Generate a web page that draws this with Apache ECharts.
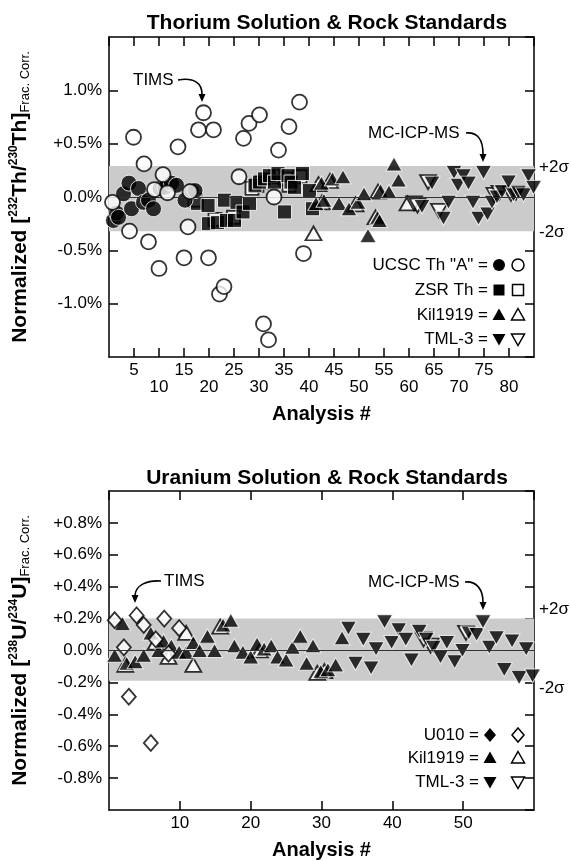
<!DOCTYPE html>
<html>
<head>
<meta charset="utf-8">
<script src="https://cdn.jsdelivr.net/npm/echarts@6/dist/echarts.min.js"></script>
<style>
  html, body { margin: 0; padding: 0; background: #fff; }
  #chart { width: 571px; height: 861px; }
</style>
</head>
<body>
<div id="chart"></div>
<script>
// ---------- Thorium panel: normalized 232Th/230Th (%), by analysis # ----------
const thXRow1 = [5, 15, 25, 35, 45, 55, 65, 75];
const thXRow2 = [10, 20, 30, 40, 50, 60, 70, 80];
const thYTicks = [-1.0, -0.5, 0.0, 0.5, 1.0];
const thYLabels = ['-1.0%', '-0.5%', '0.0%', '+0.5%', '1.0%'];
const thBand = [0.29, -0.32];

const thCircleFilled = [[0.9,-0.22],[1.5,-0.15],[1.9,-0.19],[2.9,0.03],[4.0,0.13],[4.5,-0.11],[5.9,0.08],[6.9,-0.05],[7.9,-0.03],[8.9,-0.11],[10.2,0.08],[11.2,0.09],[12.5,0.13],[13.5,0.11],[15.2,-0.03],[16.5,0.06],[17.2,0.06]];
const thCircleOpen = [[0.7,-0.05],[4.1,-0.32],[4.9,0.56],[7.0,0.31],[7.9,-0.42],[9.1,0.07],[10.0,-0.67],[10.8,0.21],[11.7,0.04],[13.8,0.47],[15.0,-0.57],[15.8,-0.28],[16.2,0.05],[17.9,0.63],[18.9,0.79],[19.9,-0.57],[20.9,0.63],[22.1,-0.91],[23.0,-0.84],[26.0,0.19],[26.9,0.55],[28.0,0.69],[30.1,0.77],[30.9,-1.19],[31.9,-1.34],[33.0,0.0],[33.9,0.44],[36.0,0.66],[38.1,0.89],[38.9,-0.53]];
const thSquareFilled = [[17.7,-0.06],[19.8,-0.08],[19.9,-0.25],[21.7,-0.24],[23.1,-0.03],[23.5,-0.22],[25.1,-0.22],[25.6,-0.05],[26.8,-0.14],[28.1,-0.06],[29.2,0.11],[30.1,0.14],[31.1,0.17],[32.1,0.20],[33.1,0.14],[33.8,0.22],[35.1,-0.14],[35.8,0.20],[36.4,0.14],[37.1,0.09],[38.7,0.22],[40.1,0.06],[40.7,-0.11]];
const thSquareOpen = [[17.2,-0.03],[21.2,-0.21],[24.9,-0.19],[28.6,0.08],[29.6,0.11],[30.6,0.14],[33.3,0.19],[35.3,0.17],[36.0,0.11],[38.2,0.19]];
const thKilFilled = [[41.4,-0.06],[42.5,0.13],[43.0,-0.03],[44.7,0.17],[46.0,-0.06],[46.8,0.19],[48.0,-0.11],[49.8,-0.05],[51.0,0.03],[51.8,-0.36],[53.7,-0.19],[54.1,-0.22],[54.3,0.06],[56.0,0.05],[57.0,0.31],[57.9,0.16]];
const thKilOpen = [[40.9,-0.34],[41.9,0.12],[42.6,-0.05],[44.2,0.15],[49.3,-0.07],[53.3,-0.19],[53.8,0.05],[59.7,-0.06]];
const thTmlFilled = [[62.6,-0.09],[64.6,0.13],[66.9,-0.2],[67.9,-0.05],[69.0,0.23],[69.8,0.11],[70.9,0.2],[71.9,0.13],[72.8,-0.05],[73.9,-0.2],[74.9,0.23],[75.7,-0.16],[76.6,-0.05],[77.6,0.0],[78.6,0.05],[79.9,0.14],[80.9,0.02],[81.9,0.04],[82.9,0.02],[83.9,0.2],[84.9,0.09]];
const thTmlOpen = [[61.0,-0.06],[61.7,-0.08],[63.8,0.14],[66.0,-0.13],[77.1,0.02],[78.1,0.04],[80.4,0.03],[81.4,0.04]];

// ---------- Uranium panel: normalized 238U/234U (%), by analysis # ----------
const uXLabels = [10, 20, 30, 40, 50];
const uYTicks = [-0.8, -0.6, -0.4, -0.2, 0.0, 0.2, 0.4, 0.6, 0.8];
const uYLabels = ['-0.8%', '-0.6%', '-0.4%', '-0.2%', '0.0%', '+0.2%', '+0.4%', '+0.6%', '+0.8%'];
const uBand = [0.2, -0.19];

const uU010Open = [[0.8,0.19],[2.1,0.02],[2.8,-0.29],[3.9,0.22],[4.9,0.16],[5.9,-0.58],[6.6,0.07],[7.8,0.2],[8.4,-0.02],[9.9,0.14]];
const uKilFilled = [[0.8,-0.03],[1.9,0.17],[2.5,-0.08],[3.7,-0.07],[4.9,-0.03],[5.9,0.11],[7.0,0.0],[7.7,0.06],[8.8,0.03],[9.9,-0.01],[10.9,-0.01],[11.9,0.05],[12.8,0.0],[13.9,0.09],[14.9,0.0],[16.1,0.16],[17.2,0.19],[17.7,0.03],[18.9,-0.01],[20.0,-0.04],[20.9,0.04],[21.9,0.01],[22.9,0.03],[23.8,-0.04],[25.0,-0.06],[25.9,0.02],[27.0,0.09],[27.9,-0.08],[28.8,0.03],[29.9,-0.13],[30.9,-0.12],[32.0,-0.09],[32.9,0.08]];
const uKilOpen = [[2.3,-0.09],[6.6,0.05],[8.4,-0.04],[10.9,0.11],[11.9,-0.09],[15.7,0.15],[21.3,0.0],[29.4,-0.14],[30.4,-0.13]];
const uTmlFilled = [[33.8,0.14],[34.8,-0.08],[35.9,0.07],[37.0,-0.11],[37.7,0.01],[38.9,0.18],[39.9,0.05],[40.9,0.13],[41.9,0.07],[42.7,-0.06],[43.8,0.12],[44.8,0.07],[45.8,0.02],[46.8,-0.04],[47.7,0.05],[48.8,-0.07],[49.9,0.0],[50.8,0.11],[51.9,0.10],[52.8,0.18],[53.7,0.02],[54.7,0.08],[55.8,-0.12],[56.9,0.06],[57.9,-0.17],[58.9,0.01],[59.8,-0.16]];
const uTmlOpen = [[44.4,0.07],[45.4,0.03],[50.4,0.11]];

const FONT = '"Liberation Sans", Arial, Helvetica, sans-serif';
const fmt1 = v => Number(v).toFixed(1);

function lookup(ticks, labels) {
  return v => {
    const i = ticks.findIndex(t => fmt1(t) === fmt1(v));
    return i >= 0 ? labels[i] : '';
  };
}

const axisLine = { show: true, onZero: false, lineStyle: { color: '#000', width: 1.5 } };
const tick = { show: true, inside: true, length: 9, lineStyle: { color: '#000', width: 1.5 } };
const labelStyle = { color: '#000', fontFamily: FONT, fontSize: 17 };
const nameStyle = { color: '#000', fontFamily: FONT, fontSize: 20, fontWeight: 'bold' };

function xAxes(grid, max, interval, formatter, nameGap) {
  return [
    { type: 'value', gridIndex: grid, position: 'bottom', min: 0, max, interval,
      axisLine, axisTick: tick, splitLine: { show: false },
      axisLabel: Object.assign({ formatter, margin: 5, lineHeight: 17,
        showMinLabel: false, showMaxLabel: false }, labelStyle),
      name: 'Analysis #', nameLocation: 'middle', nameGap, nameTextStyle: nameStyle },
    { type: 'value', gridIndex: grid, position: 'top', min: 0, max, interval,
      axisLine, axisTick: tick, splitLine: { show: false }, axisLabel: { show: false } }
  ];
}

function yAxes(grid, min, max, interval, formatter, nameRich) {
  return [
    { type: 'value', gridIndex: grid, position: 'left', min, max, interval,
      axisLine, axisTick: tick, splitLine: { show: false },
      axisLabel: Object.assign({ formatter, margin: 7,
        showMinLabel: false, showMaxLabel: false }, labelStyle),
      name: nameRich, nameLocation: 'middle', nameRotate: 90, nameGap: 77,
      nameTextStyle: Object.assign({
        lineHeight: 24,
        rich: {
          b: { fontFamily: FONT, fontSize: 21, fontWeight: 'bold', color: '#000', lineHeight: 24 },
          sup: { fontFamily: FONT, fontSize: 12, fontWeight: 'bold', color: '#000',
                 verticalAlign: 'top', lineHeight: 12, padding: [0, 0, 8, 0] },
          sub: { fontFamily: FONT, fontSize: 13, fontWeight: 'normal', color: '#000',
                 verticalAlign: 'bottom', lineHeight: 13, padding: [8, 0, 0, 0] }
        }
      }, nameStyle) },
    { type: 'value', gridIndex: grid, position: 'right', min, max, interval,
      axisLine, axisTick: tick, splitLine: { show: false }, axisLabel: { show: false } }
  ];
}

// grey ±2σ band, zero line and the band labels
function bandSeries(xi, yi, band, offTop, offBot) {
  const lbl = (text, off) => ({ show: true, position: 'end', formatter: text, distance: 5,
    offset: [0, off], color: '#000', fontFamily: FONT, fontSize: 17 });
  const hidden = { color: 'rgba(0,0,0,0)', width: 0.1, type: 'solid' };
  return {
    type: 'scatter', xAxisIndex: xi, yAxisIndex: yi, data: [], z: 1, silent: true,
    markArea: { silent: true, itemStyle: { color: '#cbcbcb' },
      data: [[{ yAxis: band[0] }, { yAxis: band[1] }]] },
    markLine: { silent: true, symbol: 'none', animation: false,
      data: [
        { yAxis: 0, lineStyle: { color: '#333', width: 1, type: 'solid' }, label: { show: false } },
        { yAxis: band[0], lineStyle: hidden, label: lbl('+2σ', offTop) },
        { yAxis: band[1], lineStyle: hidden, label: lbl('-2σ', offBot) }
      ] }
  };
}

const filled = { color: '#000', borderColor: '#fff', borderWidth: 1 };
const open = { color: '#fff', borderColor: '#000', borderWidth: 1.8 };

function pts(name, xi, yi, data, symbol, size, style, z, rotate) {
  return { name, type: 'scatter', xAxisIndex: xi, yAxisIndex: yi, data, symbol,
    symbolSize: size, symbolRotate: rotate || 0, itemStyle: style, z,
    emphasis: { disabled: true }, silent: true };
}

const thXFmt = v => thXRow1.includes(v) ? String(v) : (thXRow2.includes(v) ? '\n' + v : '');
const uXFmt = v => uXLabels.includes(v) ? String(v) : '';

const tri = [16, 14];

// ---------- in-plot keys and annotations ----------
function keyShape(kind, cx, cy, isOpen) {
  const style = isOpen ? { fill: '#fff', stroke: '#000', lineWidth: 1.5 } : { fill: '#000' };
  if (kind === 'circle') return { type: 'circle', shape: { cx, cy, r: 6 }, style };
  if (kind === 'square') return { type: 'rect', shape: { x: cx - 5.5, y: cy - 5.5, width: 11, height: 11 }, style };
  if (kind === 'up') return { type: 'polygon', shape: { points: [[cx, cy - 6.5], [cx + 6.5, cy + 5], [cx - 6.5, cy + 5]] }, style };
  if (kind === 'down') return { type: 'polygon', shape: { points: [[cx - 6.5, cy - 5], [cx + 6.5, cy - 5], [cx, cy + 6.5]] }, style };
  return { type: 'polygon', shape: { points: [[cx, cy - 7], [cx + 6, cy], [cx, cy + 7], [cx - 6, cy]] }, style };
}
function keyRow(text, rightX, cy, kind, x1, x2) {
  return [
    { type: 'text', style: { text, x: rightX, y: cy, align: 'right', verticalAlign: 'middle',
      font: '17px ' + FONT, fill: '#000' } },
    keyShape(kind, x1, cy, false),
    keyShape(kind, x2, cy, true)
  ];
}
function note(text, x, y) {
  return { type: 'text', style: { text, x, y, align: 'left', verticalAlign: 'middle',
    font: '17px ' + FONT, fill: '#000' } };
}
function arrow(x1, y1, c1x, c1y, c2x, c2y, x2, y2) {
  return [
    { type: 'bezierCurve', shape: { x1, y1, cpx1: c1x, cpy1: c1y, cpx2: c2x, cpy2: c2y, x2, y2 },
      style: { stroke: '#000', lineWidth: 1.6, fill: null } },
    { type: 'polygon', shape: { points: [[x2 - 3.5, y2], [x2 + 3.5, y2], [x2, y2 + 8]] },
      style: { fill: '#000' } }
  ];
}

const graphics = [].concat(
  keyRow('UCSC Th "A" =', 488, 265, 'circle', 499, 518),
  keyRow('ZSR Th =', 488, 290, 'square', 499, 518),
  keyRow('Kil1919 =', 488, 315, 'up', 499, 518),
  keyRow('TML-3 =', 488, 339, 'down', 499, 518),
  keyRow('U010 =', 479, 735, 'diamond', 490, 518),
  keyRow('Kil1919 =', 479, 758, 'up', 490, 518),
  keyRow('TML-3 =', 479, 782, 'down', 490, 518),
  [note('TIMS', 133, 80), note('MC-ICP-MS', 368, 133),
   note('TIMS', 164, 581), note('MC-ICP-MS', 368, 582)],
  arrow(178, 80, 195, 77, 202, 84, 202, 94),
  arrow(466, 133, 478, 132, 483, 140, 483, 154),
  arrow(161, 581, 147, 580, 136, 585, 135, 595),
  arrow(465, 582, 477, 581, 483, 590, 483, 602)
);

const chart = echarts.init(document.getElementById('chart'), null, { renderer: 'canvas' });
chart.setOption({
  animation: false,
  backgroundColor: '#fff',
  title: [
    { text: 'Thorium Solution & Rock Standards', left: 322, top: 8, textAlign: 'center',
      textStyle: { fontFamily: FONT, fontSize: 21, fontWeight: 'bold', color: '#000' } },
    { text: 'Uranium Solution & Rock Standards', left: 322, top: 463, textAlign: 'center',
      textStyle: { fontFamily: FONT, fontSize: 21, fontWeight: 'bold', color: '#000' } }
  ],
  grid: [
    { left: 107, top: 37, width: 427, height: 320 },
    { left: 107, top: 491, width: 427, height: 320 }
  ],
  xAxis: [].concat(
    xAxes(0, 85, 5, thXFmt, 47),
    xAxes(1, 60, 10, uXFmt, 30)
  ),
  yAxis: [].concat(
    yAxes(0, -1.5, 1.5, 0.5, lookup(thYTicks, thYLabels),
      '{b|Normalized [}{sup|232}{b|Th/}{sup|230}{b|Th]}{sub|Frac. Corr.}'),
    yAxes(1, -1.0, 1.0, 0.2, lookup(uYTicks, uYLabels),
      '{b|Normalized [}{sup|238}{b|U/}{sup|234}{b|U]}{sub|Frac. Corr.}')
  ),
  series: [
    bandSeries(0, 0, thBand, 1, 1),
    pts('ZSR Th (open)', 0, 0, thSquareOpen, 'rect', 13, open, 2),
    pts('ZSR Th', 0, 0, thSquareFilled, 'rect', 14, filled, 3),
    pts('UCSC Th "A"', 0, 0, thCircleFilled, 'circle', 16, filled, 4),
    pts('UCSC Th "A" (open)', 0, 0, thCircleOpen, 'circle', 15, open, 5),
    pts('Kil1919 (open)', 0, 0, thKilOpen, 'triangle', tri, open, 2),
    pts('Kil1919', 0, 0, thKilFilled, 'triangle', tri, filled, 3),
    pts('TML-3 (open)', 0, 0, thTmlOpen, 'triangle', tri, open, 2, 180),
    pts('TML-3', 0, 0, thTmlFilled, 'triangle', tri, filled, 3, 180),

    bandSeries(2, 2, uBand, -9, 8),
    pts('Kil1919 (open)', 2, 2, uKilOpen, 'triangle', tri, open, 2),
    pts('Kil1919', 2, 2, uKilFilled, 'triangle', tri, filled, 3),
    pts('TML-3 (open)', 2, 2, uTmlOpen, 'triangle', tri, open, 2, 180),
    pts('TML-3', 2, 2, uTmlFilled, 'triangle', tri, filled, 3, 180),
    pts('U010 (open)', 2, 2, uU010Open, 'diamond', [14, 16], open, 4)
  ],
  graphic: graphics
});
</script>
</body>
</html>
